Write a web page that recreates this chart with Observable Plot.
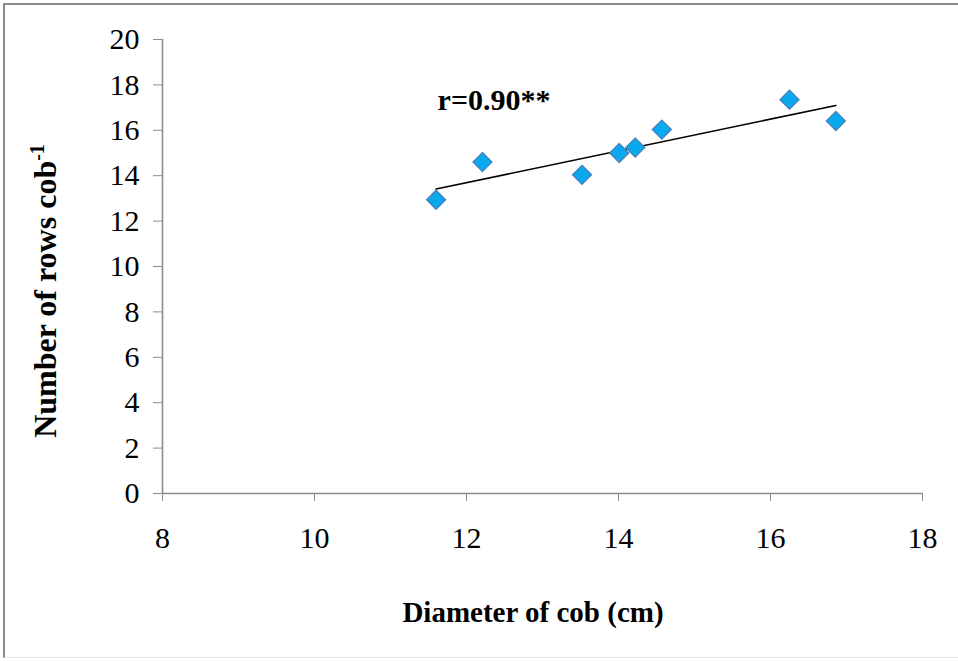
<!DOCTYPE html>
<html>
<head>
<meta charset="utf-8">
<script src="https://cdn.jsdelivr.net/npm/d3@7"></script>
<script src="https://cdn.jsdelivr.net/npm/@observablehq/plot@0.6"></script>
<style>
  html, body { margin: 0; padding: 0; background: #fff; }
  #wrap { position: relative; width: 958px; height: 661px; }
  #border { position: absolute; left: 3px; top: 3px; width: 955px; height: 655px;
            border-top: 2px solid #8c8c8c; border-left: 2px solid #8c8c8c;
            border-bottom: 1px solid #e4e4e4; pointer-events: none; box-sizing: border-box; }
</style>
</head>
<body>
<div id="wrap"><div id="border"></div></div>
<script>
// Data
const diameter = [11.60, 12.21, 13.52, 14.01, 14.22, 14.57, 16.25, 16.86];
const rows     = [12.94, 14.60, 14.04, 15.00, 15.24, 16.03, 17.35, 16.41];
const xTicks = [8, 10, 12, 14, 16, 18];
const yTicks = [0, 2, 4, 6, 8, 10, 12, 14, 16, 18, 20];
const annX = [11.62];
const annY = [16.88];
const annText = ["r=0.90**"];
const xTitle = "Diameter of cob (cm)";
const yTitle = "Number of rows cob";
const yTitleSup = "-1";

const data = diameter.map((d, i) => ({x: d, y: rows[i]}));
const ann = annX.map((d, i) => ({x: d, y: annY[i], t: annText[i]}));

const serif = "Liberation Serif";
const axisColor = "#8c8c8c";
const chart = Plot.plot({
  width: 958,
  height: 661,
  marginLeft: 162,
  marginRight: 36,
  marginTop: 39,
  marginBottom: 168,
  style: {fontFamily: serif, fontSize: "30px", background: "transparent", color: "black"},
  x: {domain: [8, 18]},
  y: {domain: [0, 20]},
  marks: [
    Plot.axisX({ticks: xTicks, tickSize: 8, stroke: axisColor, tickFormat: () => "", label: null}),
    Plot.axisY({ticks: yTicks, tickSize: 9, stroke: axisColor, tickFormat: () => "", label: null}),
    Plot.text(xTicks, {x: d => d, frameAnchor: "bottom", lineAnchor: "bottom", dy: 54, text: d => String(d),
      fontFamily: serif, fontSize: 30, fill: "black"}),
    Plot.text(yTicks, {y: d => d, frameAnchor: "left", textAnchor: "end", lineAnchor: "middle", dx: -23, text: d => String(d),
      fontFamily: serif, fontSize: 30, fill: "black"}),
    Plot.ruleY([0], {stroke: axisColor, strokeWidth: 1.6}),
    Plot.ruleX([8], {stroke: axisColor, strokeWidth: 1.6}),
    Plot.linearRegressionY(data, {x: "x", y: "y", stroke: "black", strokeWidth: 1.6, ci: 0}),
    Plot.dot(data, {x: "x", y: "y", symbol: "diamond2", r: 8.6, fill: "#0AA8EC", stroke: "#4A7EBB", strokeWidth: 1.2}),
    Plot.text(ann, {x: "x", y: "y", text: "t", textAnchor: "start", lineAnchor: "bottom", fontSize: 30, fontWeight: "bold", fill: "black", fontFamily: serif})
  ]
});

const svg = d3.select(chart);
svg.append("text")
  .attr("x", 533).attr("y", 622)
  .attr("text-anchor", "middle")
  .attr("font-family", serif)
  .attr("font-weight", "bold").attr("font-size", 29)
  .attr("fill", "black")
  .text(xTitle);
const yt = svg.append("text")
  .attr("transform", "translate(56,291) rotate(-90)")
  .attr("text-anchor", "middle")
  .attr("font-family", serif)
  .attr("font-weight", "bold").attr("font-size", 32)
  .attr("fill", "black");
yt.append("tspan").text(yTitle);
yt.append("tspan").attr("font-size", 20).attr("dy", -12).text(yTitleSup);

document.getElementById("wrap").appendChild(chart);
chart.style.position = "absolute";
chart.style.left = "0px";
chart.style.top = "0px";
</script>
</body>
</html>
